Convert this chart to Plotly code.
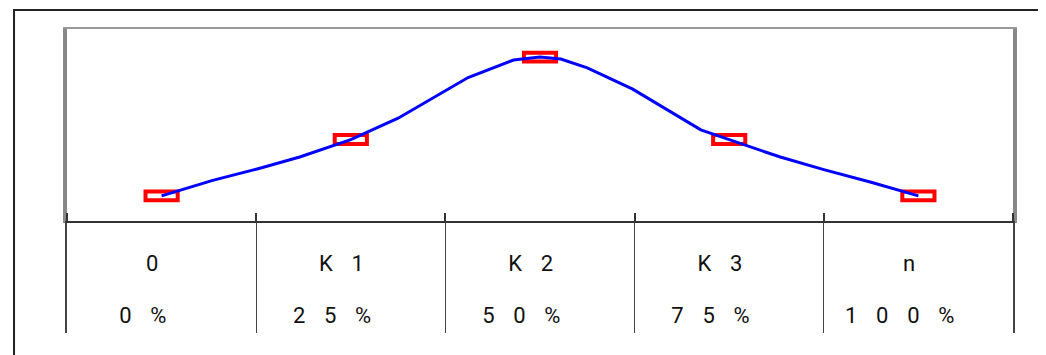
import plotly.graph_objects as go

# dados
categorias = ["0", "K1", "K2", "K3", "n"]
percentuais = ["0%", "25%", "50%", "75%", "100%"]
pos_categorias = [0, 1, 2, 3, 4]
marcador_y = [14, 43, 85.5, 43, 14]
curva_x = [0, 0.27, 0.51, 0.73, 1.0, 1.25, 1.62, 1.86, 2.0, 2.11, 2.25, 2.49, 2.85, 3.0, 3.27, 3.5, 3.75, 4.0]
curva_y = [14, 22, 28, 34, 43, 54, 75, 84, 85.5, 84.5, 80, 69, 48, 43, 34, 27.5, 21, 14]
divisoes = [-0.5, 0.5, 1.5, 2.5, 3.5, 4.5]

ESP = "\u2002\u2004"   # espaco largo entre letras
DIV = 110 / 304        # altura da tabela em fracao da area


def espacar(txt, fim=1):
    return ESP.join(txt) + ESP * fim


ALT = 4.6  # altura dos retangulos (unidades do eixo y)

fig = go.Figure()

# retangulos vermelhos
fig.add_trace(go.Bar(x=pos_categorias, y=[ALT] * len(marcador_y),
                     base=[v - ALT / 2 for v in marcador_y],
                     width=0.17, marker_color="rgba(0,0,0,0)",
                     marker_line_color="#ff0000", marker_line_width=4,
                     xaxis="x", yaxis="y", hoverinfo="skip"))

# curva azul
fig.add_trace(go.Scatter(x=curva_x, y=curva_y, mode="lines",
                         line={"color": "#0000ff", "width": 3},
                         xaxis="x", yaxis="y"))

# tabela embaixo
fonte = {"family": "Roboto", "size": 22, "color": "#111111"}
fig.add_trace(go.Scatter(x=pos_categorias, y=[0.614] * 5, mode="text",
                         text=[espacar(c, 1) for c in categorias],
                         textfont=fonte, xaxis="x2", yaxis="y2"))
fig.add_trace(go.Scatter(x=pos_categorias, y=[0.145] * 5, mode="text",
                         text=[espacar(p, 2) for p in percentuais],
                         textfont=fonte, xaxis="x2", yaxis="y2"))

fig.update_layout(
    width=1046, height=355,
    margin={"l": 59, "r": 41, "t": 21, "b": 30},
    paper_bgcolor="white", plot_bgcolor="white",
    showlegend=False, barmode="overlay",
    xaxis=dict(domain=[0, 1], anchor="y", range=[-0.5, 4.5], side="top",
               showline=True, linecolor="#999999", linewidth=2,
               showticklabels=False, showgrid=False, zeroline=False),
    yaxis=dict(domain=[DIV, 1], anchor="x", range=[0, 100],
               showline=True, mirror=True, linecolor="#888888", linewidth=4,
               showticklabels=False, showgrid=False, zeroline=False),
    xaxis2=dict(domain=[0, 1], anchor="y2", range=[-0.5, 4.5], side="top",
                showline=True, linecolor="#333333", linewidth=2,
                ticks="outside", ticklen=8, tickwidth=1.5, tickcolor="#333333",
                tickvals=divisoes, showticklabels=False,
                showgrid=True, gridcolor="#444444", gridwidth=1, zeroline=False),
    yaxis2=dict(domain=[0, DIV], anchor="x2", range=[0, 1],
                showline=True, mirror=True, linecolor="#444444", linewidth=1.5,
                showticklabels=False, showgrid=False, zeroline=False),
)

# moldura externa
fig.add_shape(type="rect", xref="paper", yref="paper",
              x0=-0.056, x1=1.2, y0=-0.3, y1=1.0625,
              line={"color": "#222222", "width": 2})

fig.write_html("out.html")
